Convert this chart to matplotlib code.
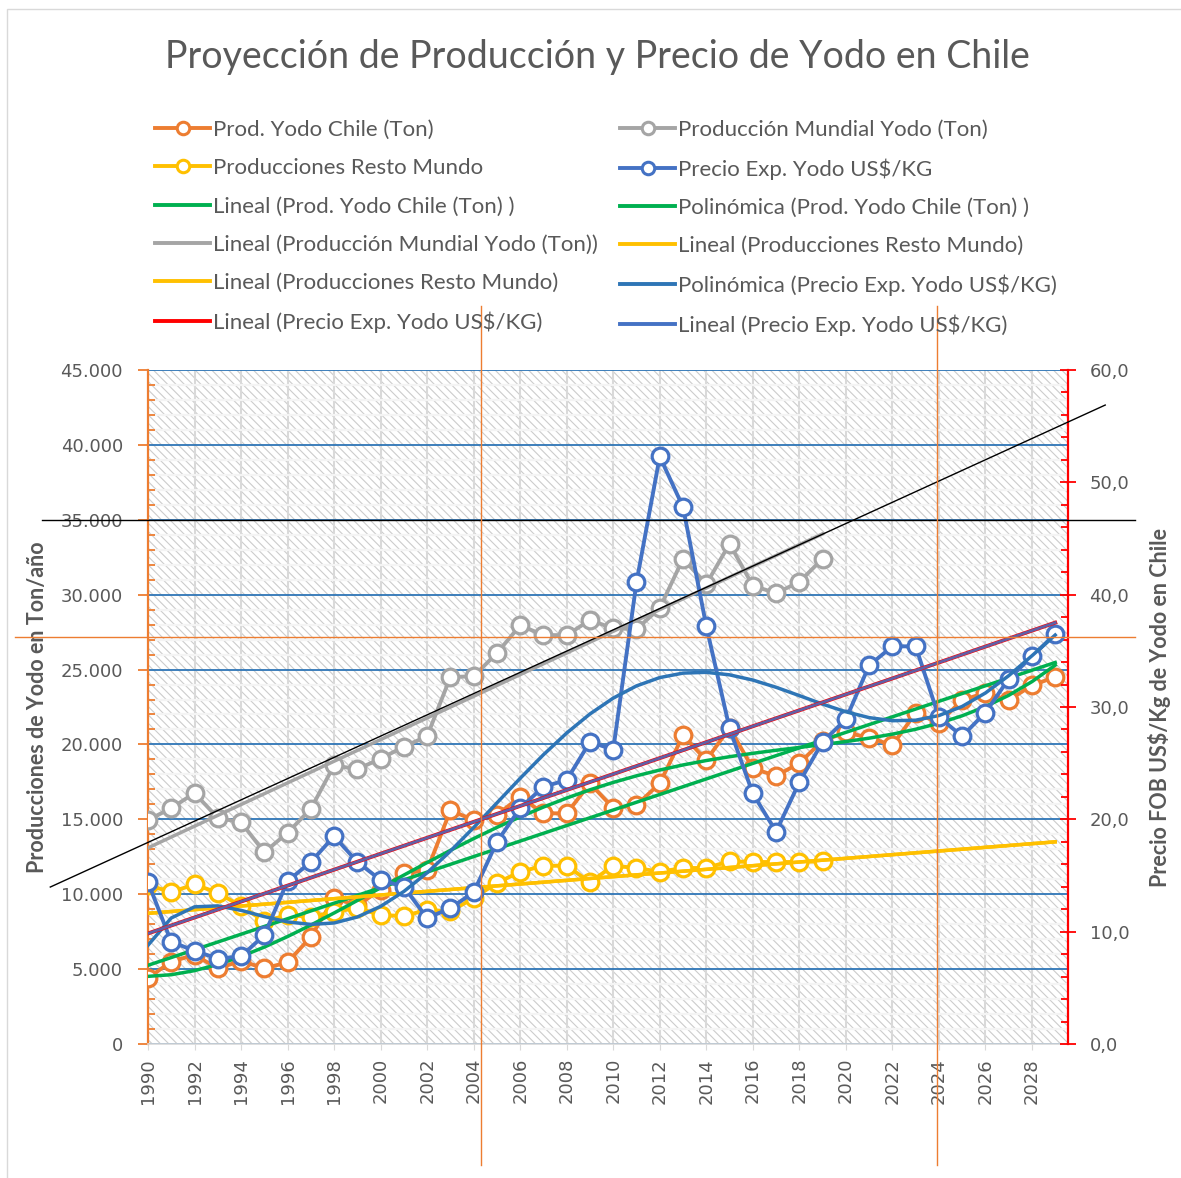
import numpy as np
import matplotlib.pyplot as plt
from matplotlib.lines import Line2D
from matplotlib.patches import Rectangle
from matplotlib.ticker import FuncFormatter, MultipleLocator

plt.rcParams['hatch.linewidth'] = 0.8

# series data (ton / year and US$/kg)
years = np.arange(1990, 2030)
years_hist = np.arange(1990, 2020)

prod_chile = [4400, 5500, 5950, 5050, 5550, 5050, 5450, 7150, 9750, 9250,
              10300, 11400, 11600, 15600, 14950, 15300, 16500, 15400, 15400, 17400,
              15750, 15950, 17400, 20600, 18950, 21100, 18400, 17900, 18750, 20250,
              20800, 20450, 19950, 22100, 21450, 22950, 23450, 22950, 23950, 24500]
prod_mundial = [14950, 15750, 16750, 15100, 14800, 12800, 14100, 15700, 18600, 18350,
                19050, 19850, 20550, 24500, 24550, 26100, 27950, 27300, 27300, 28300,
                27750, 27700, 29100, 32400, 30700, 33400, 30600, 30100, 30850, 32400]
resto_mundo = [10600, 10150, 10650, 10100, 9200, 8200, 8600, 8500, 8800, 9100,
               8600, 8550, 8950, 8850, 9750, 10750, 11500, 11900, 11900, 10800,
               11900, 11750, 11500, 11750, 11750, 12200, 12150, 12150, 12150, 12200]
precio = [14.4, 9.1, 8.3, 7.6, 7.8, 9.7, 14.5, 16.2, 18.5, 16.2,
          14.6, 14.0, 11.2, 12.1, 13.5, 18.0, 21.0, 22.9, 23.5, 26.9,
          26.2, 41.1, 52.3, 47.8, 37.2, 28.1, 22.3, 18.9, 23.3, 26.9,
          28.9, 33.7, 35.4, 35.4, 29.1, 27.4, 29.5, 32.5, 34.5, 36.5]

# reference lines drawn over the chart
diag_x = [1985.8, 2031.15]
diag_y = [10480, 42660]
ref_h_x = [1985.45, 2032.45]
ref_h_y = 35000
cursor_x = [2004.3, 2023.9]
cursor_y = [-8100, 49300]
cursor_h_x = [1984.3, 2032.45]
cursor_h_y = 27170

C_ORANGE = '#ED7D31'
C_GRAY = '#A5A5A5'
C_YELLOW = '#FFC000'
C_BLUE = '#4472C4'
C_GREEN = '#00B050'
C_POLY = '#2E75B6'
C_TEXT = '#595959'


def trend(x, y, deg, x_out):
    t = np.asarray(x) - 1990
    coef = np.polyfit(t, y, deg)
    return np.polyval(coef, np.asarray(x_out) - 1990)


fig = plt.figure(figsize=(11.81, 11.78), dpi=100)
ax = fig.add_axes([148 / 1181, 134 / 1178, 920 / 1181, 674 / 1178])
ax2 = ax.twinx()

# hatched plot background
ax.patch.set_facecolor('white')
ax.patch.set_hatch('\\\\\\\\')
ax.patch.set_edgecolor('#CCCCCC')

ax.set_xlim(1990, 2029.55)
ax.set_ylim(0, 45000)
ax2.set_ylim(0, 60)

mk = dict(marker='o', markersize=12, markerfacecolor='white', markeredgewidth=2.3)
ax.plot(years, prod_chile, color=C_ORANGE, lw=2.8, zorder=3, **mk)
ax.plot(years_hist, prod_mundial, color=C_GRAY, lw=2.8, zorder=3, **mk)
ax.plot(years_hist, resto_mundo, color=C_YELLOW, lw=2.8, zorder=3, **mk)

ax.plot(years, trend(years, prod_chile, 1, years), color=C_GREEN, lw=2.5, zorder=4)
ax.plot(years, trend(years, prod_chile, 4, years), color=C_GREEN, lw=2.5, zorder=4)
ax.plot(years_hist, trend(years_hist, prod_mundial, 1, years_hist), color=C_GRAY, lw=2.5, zorder=4)
ax.plot(years, trend(years_hist, resto_mundo, 1, years), color=C_YELLOW, lw=2.5, zorder=4)
ax.plot(years, trend(years_hist, resto_mundo, 1, years), color=C_YELLOW, lw=2.5, zorder=4)

ax2.plot(years, precio, color=C_BLUE, lw=2.8, zorder=3, **mk)
ax2.plot(years, trend(years, precio, 6, years), color=C_POLY, lw=2.5, zorder=4)
ax2.plot(years, trend(years, precio, 1, years), color='#FF0000', lw=2.8, zorder=4)
ax2.plot(years, trend(years, precio, 1, years), color=C_BLUE, lw=2.0, zorder=4, alpha=0.85)

# grid
ax.set_xticks(np.arange(1990, 2029, 2))
ax.yaxis.set_major_locator(MultipleLocator(5000))
ax.yaxis.set_minor_locator(MultipleLocator(1000))
ax2.yaxis.set_major_locator(MultipleLocator(10))
ax2.yaxis.set_minor_locator(MultipleLocator(2))
ax.grid(axis='x', color='#D9D9D9', lw=1.5, zorder=1)
ax.grid(axis='y', which='major', color=C_POLY, lw=1.3, zorder=1)
ax.grid(axis='y', which='minor', color='#F4F4F4', lw=1.6, zorder=1)
ax.set_axisbelow(True)

ax.yaxis.set_major_formatter(FuncFormatter(lambda v, p: f'{int(v):,}'.replace(',', '.')))
ax2.yaxis.set_major_formatter(FuncFormatter(lambda v, p: f'{v:.1f}'.replace('.', ',')))

for s in ['top', 'right']:
    ax.spines[s].set_visible(False)
for s in ['top', 'left']:
    ax2.spines[s].set_visible(False)
ax.spines['bottom'].set_color('#D9D9D9')
ax.spines['bottom'].set_linewidth(1.2)
ax.spines['left'].set_color(C_ORANGE)
ax.spines['left'].set_linewidth(1.6)
ax2.spines['bottom'].set_visible(False)
ax2.spines['right'].set_color('#FF0000')
ax2.spines['right'].set_linewidth(1.6)

ax.tick_params(axis='x', colors=C_TEXT, labelsize=13, labelrotation=90,
               length=4, color='#D9D9D9', pad=6)
ax.tick_params(axis='y', which='major', colors=C_TEXT, labelsize=13,
               direction='out', length=7, color=C_ORANGE, width=1.3, pad=11)
ax.tick_params(axis='y', which='minor', direction='in', length=5,
               color=C_ORANGE, width=1.3)
ax2.tick_params(axis='y', which='major', colors=C_TEXT, labelsize=13,
                direction='inout', length=11, color='#FF0000', width=1.3, pad=10)
ax2.tick_params(axis='y', which='minor', direction='in', length=5,
                color='#FF0000', width=1.3)
for lab in ax.get_xticklabels() + ax.get_yticklabels() + ax2.get_yticklabels():
    lab.set_color(C_TEXT)

ax.set_ylabel('Producciones de Yodo en Ton/año', fontsize=15.5, fontweight='bold',
              color=C_TEXT, family='Lato')
ax.yaxis.set_label_coords(-0.1087, 0.5)
ax2.set_ylabel('Precio FOB US$/Kg de Yodo en Chile', fontsize=15.5, fontweight='bold',
               color=C_TEXT, family='Lato')
ax2.yaxis.set_label_coords(1.087, 0.5)

# reference lines
ax2.plot(diag_x, np.array(diag_y) * 60 / 45000, color='black', lw=1.0,
         clip_on=False, zorder=6)
ax2.plot(ref_h_x, [ref_h_y * 60 / 45000] * 2, color='black', lw=1.0,
         clip_on=False, zorder=6)
for cx in cursor_x:
    ax2.plot([cx, cx], np.array(cursor_y) * 60 / 45000, color=C_ORANGE,
             lw=1.0, clip_on=False, zorder=6)
ax2.plot(cursor_h_x, [cursor_h_y * 60 / 45000] * 2, color=C_ORANGE, lw=1.0,
         clip_on=False, zorder=6)

fig.text(597 / 1181, 1 - 57 / 1178, 'Proyección de Producción y Precio de Yodo en Chile',
         ha='center', va='center', fontsize=27, color=C_TEXT, family='Lato')

# legend, two columns
def h_marker(c):
    return Line2D([], [], color=c, lw=2.8, marker='o', markersize=9,
                  markerfacecolor='white', markeredgewidth=2.2)


def h_line(c):
    return Line2D([], [], color=c, lw=2.8)


col1 = [(h_marker(C_ORANGE), 'Prod. Yodo Chile (Ton)'),
        (h_marker(C_YELLOW), 'Producciones Resto Mundo'),
        (h_line(C_GREEN), 'Lineal (Prod. Yodo Chile (Ton) )'),
        (h_line(C_GRAY), 'Lineal (Producción Mundial Yodo (Ton))'),
        (h_line(C_YELLOW), 'Lineal (Producciones Resto Mundo)'),
        (h_line('#FF0000'), 'Lineal (Precio Exp. Yodo US$/KG)')]
col2 = [(h_marker(C_GRAY), 'Producción Mundial Yodo (Ton)'),
        (h_marker(C_BLUE), 'Precio Exp. Yodo US$/KG'),
        (h_line(C_GREEN), 'Polinómica (Prod. Yodo Chile (Ton) )'),
        (h_line(C_YELLOW), 'Lineal (Producciones Resto Mundo)'),
        (h_line(C_POLY), 'Polinómica (Precio Exp. Yodo US$/KG)'),
        (h_line(C_BLUE), 'Lineal (Precio Exp. Yodo US$/KG)')]
for items, x0 in [(col1, 155), (col2, 620)]:
    leg = fig.legend([h for h, _ in items], [t for _, t in items],
                     loc='upper left', bbox_to_anchor=(x0 / 1181, 1 - 120 / 1178),
                     frameon=False, borderpad=0, borderaxespad=0,
                     handlelength=2.48, handletextpad=0.14, labelspacing=0.82,
                     prop={'family': 'Lato', 'size': 16})
    for t in leg.get_texts():
        t.set_color(C_TEXT)

# chart area border
fig.patches.append(Rectangle((7 / 1181, -0.01), 1.0, 1 - 9 / 1178 + 0.01,
                             transform=fig.transFigure, fill=False,
                             edgecolor='#D9D9D9', lw=1.0))

fig.savefig('out.png', dpi=100)
